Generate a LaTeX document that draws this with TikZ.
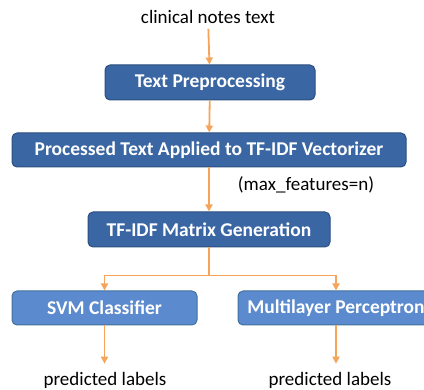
\documentclass[tikz,border=0pt]{standalone}
\usepackage{fontspec}
\setmainfont{Carlito}
\usepackage{xcolor}
\usetikzlibrary{positioning,calc,arrows.meta}

\definecolor{boxdark}{HTML}{3A66A3}
\definecolor{edgedark}{HTML}{2C4F80}
\definecolor{boxlight}{HTML}{5B8ACE}
\definecolor{edgelight}{HTML}{41719C}
\definecolor{flow}{HTML}{F5A55A}

\tikzset{
    darkbox/.style={draw=edgedark, fill=boxdark, rounded corners=5pt, line width=1pt,
        text=white, font=\fontsize{19.5}{22}\selectfont\bfseries, minimum height=35pt, inner sep=0pt},
    lightbox/.style={darkbox, draw=edgelight, fill=boxlight},
    plain/.style={font=\fontsize{19}{22}\selectfont, inner sep=2pt},
    flowline/.style={draw=flow, line width=1.8pt, -{Triangle[length=7pt,width=7pt]}}
}

\begin{document}
\begin{tikzpicture}[x=1pt,y=-1pt]
    \useasboundingbox (0,0) rectangle (424,390);

    % Input
    \node[plain] (src) at (208,17) {clinical notes text};

    % Pipeline
    \node[darkbox, minimum width=210pt] (pre) at (210,82.5) {Text Preprocessing};
    \node[darkbox, minimum width=394pt, minimum height=34pt] (vec) at (209,150) {Processed Text Applied to TF-IDF Vectorizer};
    \node[plain] (maxf) at (306,185) {(max\_features=n)};
    \node[darkbox, minimum width=242pt] (mat) at (209,229.5) {TF-IDF Matrix Generation};

    % Classifiers
    \node[lightbox, minimum width=185pt, minimum height=34pt] (svm) at (104.5,308) {SVM Classifier};
    \node[lightbox, minimum width=196pt, minimum height=34pt] (mlp) at (336,308) {Multilayer Perceptron};

    % Outputs
    \node[plain] (out1) at (105,380) {predicted labels};
    \node[plain] (out2) at (330,380) {predicted labels};

    \coordinate (split) at ($(mat.south)+(0,28)$);

    \draw[flowline, shorten <=3pt] (src) -- (pre);
    \draw[flowline] (pre) -- (vec);
    \draw[flowline] (vec.south -| mat.north) -- (mat);
    \draw[draw=flow, line width=1.8pt] (mat.south) -- (split);
    \draw[flowline] (split) -| (svm.north);
    \draw[flowline] (split) -| (mlp.north);
    \draw[flowline, shorten >=6pt] (svm.south) -- (svm.south |- out1.north);
    \draw[flowline, shorten >=6pt] (mlp.south) -- (mlp.south |- out2.north);
\end{tikzpicture}
\end{document}
